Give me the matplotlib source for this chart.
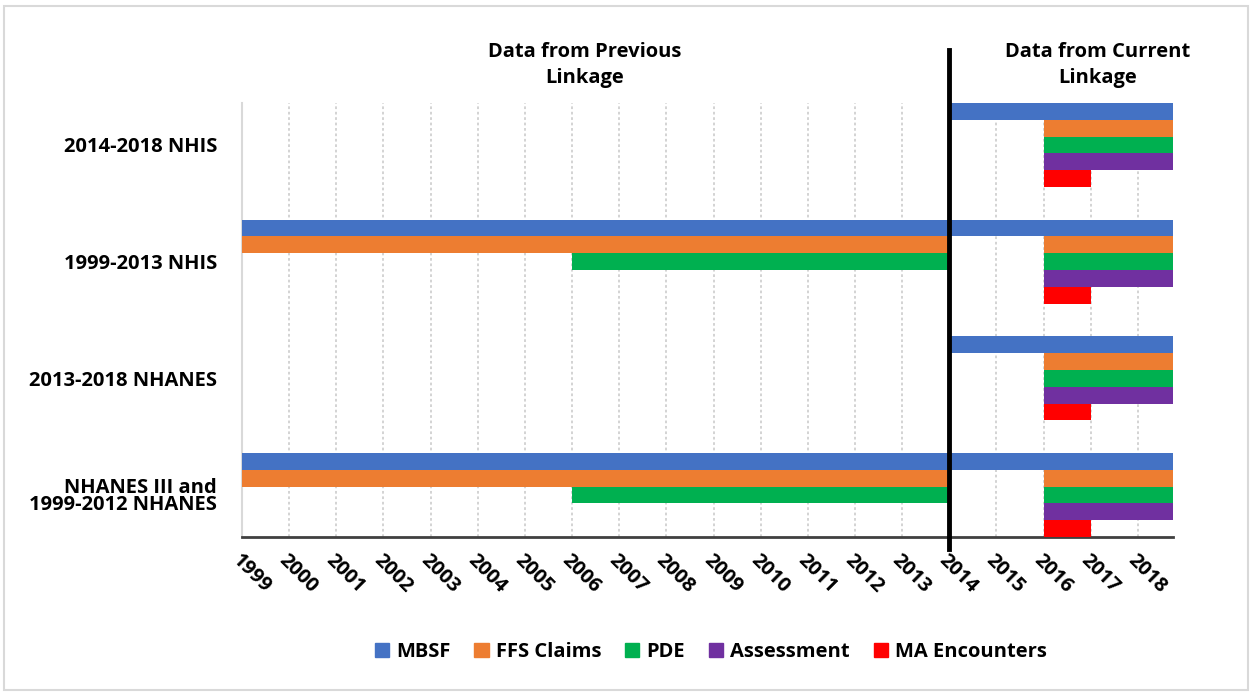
import matplotlib
matplotlib.use('Agg')
import matplotlib.pyplot as plt
from matplotlib.patches import Patch, Rectangle

plt.rcParams['font.family'] = ['Open Sans', 'DejaVu Sans']
plt.rcParams['font.weight'] = 'bold'

# data: category labels (top to bottom), series, spans (start year, end year)
sources = ['2014-2018 NHIS', '1999-2013 NHIS', '2013-2018 NHANES',
           'NHANES III and\n1999-2012 NHANES']
series = ['MBSF', 'FFS Claims', 'PDE', 'Assessment', 'MA Encounters']
colors = ['#4472C4', '#ED7D31', '#00B050', '#7030A0', '#FF0000']
years = list(range(1999, 2019))

spans_nhis_new = [[(2014, 2019)], [(2016, 2019)], [(2016, 2019)], [(2016, 2019)], [(2016, 2017)]]
spans_nhis_old = [[(1999, 2014), (2014, 2019)], [(1999, 2014), (2016, 2019)],
                  [(2006, 2014), (2016, 2019)], [(2016, 2019)], [(2016, 2017)]]
spans_nhanes_new = [[(2014, 2019)], [(2016, 2019)], [(2016, 2019)], [(2016, 2019)], [(2016, 2017)]]
spans_nhanes_old = [[(1999, 2014), (2014, 2019)], [(1999, 2014), (2016, 2019)],
                    [(2006, 2014), (2016, 2019)], [(2016, 2019)], [(2016, 2017)]]
all_spans = [spans_nhis_new, spans_nhis_old, spans_nhanes_new, spans_nhanes_old]

fig = plt.figure(figsize=(12.52, 6.94), dpi=100)
ax = fig.add_axes([242/1252, 1 - 537/694, (1173-242)/1252, (537-103)/694])

bh = 0.144
for i, spans in enumerate(all_spans):
    for j, s in enumerate(spans):
        y = i - 2 * bh + j * bh
        for a, b in s:
            ax.barh(y, b - a, left=a, height=bh, color=colors[j], zorder=3)

# axis ends a little before 2019
ax.set_xlim(1999, 1999 + 931/47.15)
ax.set_ylim(3.36, -0.36)
ax.set_yticks(range(len(sources)))
ax.set_yticklabels(sources, fontsize=14.5, fontweight='bold', linespacing=0.85)
ax.tick_params(axis='y', length=0, pad=18)
ax.set_xticks(years)
ax.set_xticklabels([str(y) for y in years], rotation=-45, ha='left', va='top',
                   rotation_mode='anchor', fontsize=14.5, fontweight='bold')
ax.tick_params(axis='x', length=0, pad=10)
ax.xaxis.grid(True, linestyle=(0, (1.5, 1.5)), color='#D0D0D0', linewidth=1.3, zorder=0)
for s in ['top', 'right']:
    ax.spines[s].set_visible(False)
ax.spines['left'].set_color('#D9D9D9')
ax.spines['left'].set_linewidth(1.5)
ax.spines['bottom'].set_color('#404040')
ax.spines['bottom'].set_linewidth(2)

# divider between previous and current linkage
ax.plot([2014, 2014], [3.46, -0.81], color='black', linewidth=3.5, clip_on=False, zorder=5)

fig.text(585/1252, 1 - 65/694, 'Data from Previous\nLinkage', ha='center', va='center',
         fontsize=14.5, fontweight='bold', linespacing=1.45)
fig.text(1098/1252, 1 - 65/694, 'Data from Current\nLinkage', ha='center', va='center',
         fontsize=14.5, fontweight='bold', linespacing=1.45)

handles = [Patch(color=c, label=l) for c, l in zip(colors, series)]
fig.legend(handles=handles, loc='center', bbox_to_anchor=(711/1252, 1 - 652/694), ncol=5,
           frameon=False, fontsize=14.5, handlelength=0.7, handleheight=0.7,
           handletextpad=0.35, columnspacing=1.2)

fig.patches.append(Rectangle((4/1252, 4/694), 1 - 8/1252, 1 - 10/694, transform=fig.transFigure,
                             fill=False, edgecolor='#D9D9D9', linewidth=1.5))

fig.savefig('out.png', dpi=100)
